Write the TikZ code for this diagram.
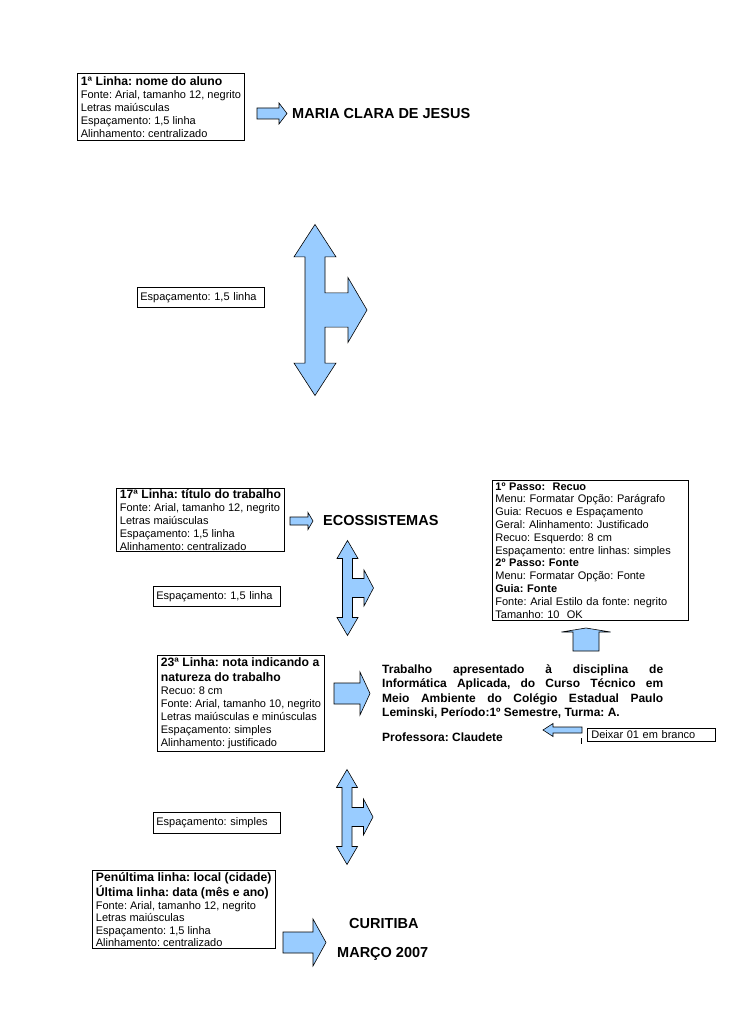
\documentclass[tikz,border=0pt]{standalone}
\usepackage{fontspec}
\setmainfont{Liberation Sans}
\definecolor{arrowblue}{RGB}{153,204,255}

\newcommand\boxhead[1]{{\fontsize{12.2}{13}\selectfont\bfseries #1}}
\frenchspacing
\hyphenpenalty=10000

\begin{document}
\begin{tikzpicture}[x=1pt,y=-1pt,
  infobox/.style={draw, line width=0.8pt, anchor=north west, align=left,
    inner xsep=3.5pt, inner ysep=3pt, font=\fontsize{11}{13}\selectfont},
  linebox/.style={infobox, text width=121pt, minimum height=20pt, inner ysep=0pt, inner xsep=3pt},
  titletext/.style={anchor=base west, inner sep=0pt, font=\fontsize{14.5}{17}\selectfont\bfseries},
  arrowshape/.style={draw, fill=arrowblue, line width=0.6pt, line join=miter}]

\useasboundingbox (0,0) rectangle (728,1030);

%% Block arrow, drawn from the middle of its tail towards +x
%% #1 total length, #2 head length, #3 half shaft width, #4 half head width
\def\TikZBlockArrow#1#2#3#4{%
  ++(0,-#3) -- ++(#1-#2,0) -- ++(0,#3-#4) -- ++(#2,#4) -- ++(-#2,#4) -- ++(0,#3-#4) -- ++(#2-#1,0) -- cycle
}

%% Three-way arrow (up, down and right), drawn round the centre of its shaft
\def\TikZTeeLength{47.5}  % centre to upper / lower tip
\def\TikZTeeHead{18}      % length of upper / lower head
\def\TikZTeeWidth{10.5}   % half width of upper / lower head
\def\TikZTeeShaft{5}      % half width of the shaft
\def\TikZTeeBranch{9.5}   % half width of the side branch
\def\TikZTeeSide{18}      % half width of the side head
\def\TikZTeeReach{26}     % centre to side tip
\def\TikZTeeSideHead{9.5} % length of side head

\def\TikZTeeArrow{%
  (0,-\TikZTeeLength) -- (\TikZTeeWidth,-\TikZTeeLength+\TikZTeeHead) -- (\TikZTeeShaft,-\TikZTeeLength+\TikZTeeHead)
  -- (\TikZTeeShaft,-\TikZTeeBranch) -- (\TikZTeeReach-\TikZTeeSideHead,-\TikZTeeBranch)
  -- (\TikZTeeReach-\TikZTeeSideHead,-\TikZTeeSide) -- (\TikZTeeReach,0)
  -- (\TikZTeeReach-\TikZTeeSideHead,\TikZTeeSide) -- (\TikZTeeReach-\TikZTeeSideHead,\TikZTeeBranch)
  -- (\TikZTeeShaft,\TikZTeeBranch) -- (\TikZTeeShaft,\TikZTeeLength-\TikZTeeHead)
  -- (\TikZTeeWidth,\TikZTeeLength-\TikZTeeHead) -- (0,\TikZTeeLength)
  -- (-\TikZTeeWidth,\TikZTeeLength-\TikZTeeHead) -- (-\TikZTeeShaft,\TikZTeeLength-\TikZTeeHead)
  -- (-\TikZTeeShaft,-\TikZTeeLength+\TikZTeeHead) -- (-\TikZTeeWidth,-\TikZTeeLength+\TikZTeeHead) -- cycle
}

%% first line
\node[infobox] (aluno) at (77,73) {\boxhead{1ª Linha: nome do aluno}\\
  Fonte: Arial, tamanho 12, negrito\\ Letras maiúsculas\\ Espaçamento: 1,5 linha\\ Alinhamento: centralizado};
\draw[arrowshape] (257,113.5) \TikZBlockArrow{30}{8}{5.5}{10.5};
\node[titletext] (nome) at (292,119) {MARIA CLARA DE JESUS};

\node[linebox] (espaco1) at (137,287) {Espaçamento: 1,5 linha};
\draw[arrowshape, shift={(315,310)}, xscale=2, yscale=1.8] \TikZTeeArrow;

%% title
\node[infobox, inner ysep=1pt] (titulo) at (116,488) {\boxhead{17ª Linha: título do trabalho}\\
  Fonte: Arial, tamanho 12, negrito\\ Letras maiúsculas\\ Espaçamento: 1,5 linha\\ Alinhamento: centralizado};
\draw[arrowshape] (290,521) \TikZBlockArrow{23}{5}{4}{8.5};
\node[titletext] (tema) at (323,525) {ECOSSISTEMAS};

\node[infobox, text width=190pt, inner xsep=3pt, inner ysep=2pt, font=\fontsize{11}{12.8}\selectfont] (passos) at (492,480) {%
  \textbf{1º Passo:\ \ Recuo}\\ Menu: Formatar Opção: Parágrafo\\ Guia: Recuos e Espaçamento\\
  Geral: Alinhamento: Justificado\\ Recuo: Esquerdo: 8 cm\\ Espaçamento: entre linhas: simples\\
  \textbf{2º Passo: Fonte}\\ Menu: Formatar Opção: Fonte\\ \textbf{Guia: Fonte}\\
  Fonte: Arial Estilo da fonte: negrito\\ Tamanho: 10\ \ OK};
\draw[arrowshape, rotate around={90:(586,651)}] (586,651) \TikZBlockArrow{23}{4}{13}{24.5};

\node[linebox] (espaco2) at (153,586) {Espaçamento: 1,5 linha};
\draw[arrowshape, shift={(347.5,588)}] \TikZTeeArrow;

%% nature of the work
\node[infobox, inner ysep=2.5pt] (natureza) at (157,655) {\boxhead{23ª Linha: nota indicando a}\\[1.5pt]
  \boxhead{natureza do trabalho}\\ Recuo: 8 cm\\ Fonte: Arial, tamanho 10, negrito\\
  Letras maiúsculas e minúsculas\\ Espaçamento: simples\\ Alinhamento: justificado};
\draw[arrowshape] (334,693.5) \TikZBlockArrow{36}{10}{10.5}{21.5};
\node[anchor=north west, inner sep=0pt, text width=281pt, align=justify,
  font=\fontsize{12}{14.5}\selectfont\bfseries] (nota) at (382,664) {Trabalho apresentado à disciplina de\linebreak
  Informática Aplicada, do Curso Técnico em\linebreak Meio Ambiente do Colégio Estadual Paulo\linebreak
  Leminski, Período:1º Semestre, Turma: A.};
\node[anchor=base west, inner sep=0pt, font=\fontsize{12}{14.5}\selectfont\bfseries] (professora) at (382,741) {Professora: Claudete};

\node[infobox, text width=120pt, minimum height=13pt, inner ysep=0pt, inner xsep=4pt] (deixar) at (587,728) {Deixar 01 em branco};
\draw[arrowshape, rotate around={180:(582,730)}] (582,730) \TikZBlockArrow{39}{10}{3}{6.5};
\draw[line width=0.8pt] (581,738) -- (581,744);

\node[linebox, minimum height=21pt] (espaco3) at (153,812) {Espaçamento: simples};
\draw[arrowshape, shift={(347,817)}] \TikZTeeArrow;

%% place and date
\node[infobox, inner ysep=2pt, font=\fontsize{11}{12.5}\selectfont] (local) at (92,870) {\boxhead{Penúltima linha: local (cidade)}\\[1pt]
  \boxhead{Última linha: data (mês e ano)}\\ Fonte: Arial, tamanho 12, negrito\\ Letras maiúsculas\\
  Espaçamento: 1,5 linha\\ Alinhamento: centralizado};
\draw[arrowshape] (283,942.5) \TikZBlockArrow{43}{13}{10.5}{23.5};
\node[titletext] (cidade) at (349,928) {CURITIBA};
\node[titletext] (data) at (337,957) {MARÇO 2007};

\end{tikzpicture}
\end{document}
